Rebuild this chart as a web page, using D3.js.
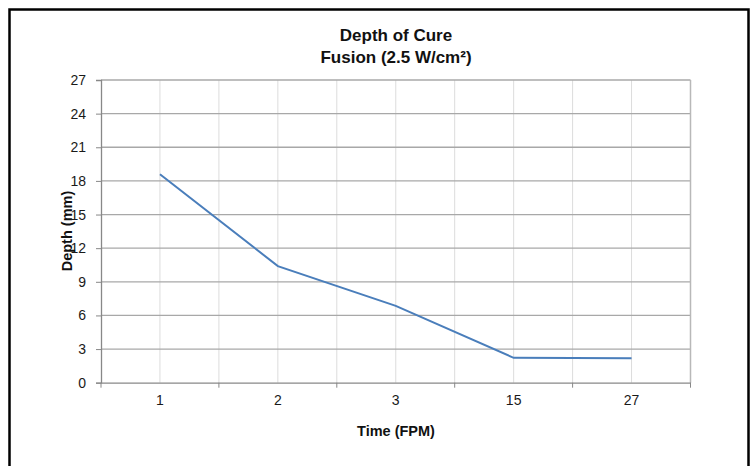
<!DOCTYPE html>
<html>
<head>
<meta charset="utf-8">
<script src="https://cdn.jsdelivr.net/npm/d3@7"></script>
<style>
body{margin:0;background:#fff;}
svg{display:block;font-family:"Liberation Sans",Arial,sans-serif;}
</style>
</head>
<body>
<svg id="chart" width="750" height="466"></svg>
<script>
const categories = ["1","2","3","15","27"];
const depthValues = [18.6, 10.4, 6.85, 2.22, 2.18];
const yTicks = [0,3,6,9,12,15,18,21,24,27];
const titleLines = ["Depth of Cure","Fusion (2.5 W/cm²)"];

const svg = d3.select("#chart");
const m = {left:101, right:690.5, top:80, bottom:382.7};

svg.append("rect").attr("x",9.5).attr("y",9.5).attr("width",739).attr("height",470)
  .attr("fill","#fff").attr("stroke","#000").attr("stroke-width",2.5);

const x = d3.scaleBand().domain(categories).range([m.left,m.right]).padding(0);
const y = d3.scaleLinear().domain([0,27]).range([m.bottom,m.top]);

const g = svg.append("g");
const vlines = [];
categories.forEach((c,i)=>{ vlines.push(x(c)+x.bandwidth()/2); if(i>0) vlines.push(x(c)); });
g.selectAll(".vg").data(vlines).join("line")
  .attr("x1",d=>d).attr("x2",d=>d).attr("y1",m.top).attr("y2",m.bottom)
  .attr("stroke","#dcdcdc").attr("stroke-width",1);
g.selectAll(".hg").data(yTicks.filter(t=>t>0)).join("line")
  .attr("x1",m.left).attr("x2",m.right).attr("y1",d=>y(d)).attr("y2",d=>y(d))
  .attr("stroke","#a8a8a8").attr("stroke-width",1.3);
g.append("line").attr("x1",m.right).attr("x2",m.right).attr("y1",m.top).attr("y2",m.bottom)
  .attr("stroke","#b8b8b8").attr("stroke-width",1.5);

const yAxis = d3.axisLeft(y).tickValues(yTicks).tickSize(5).tickPadding(10);
const ya = svg.append("g").attr("transform",`translate(${m.left},0)`).call(yAxis);
ya.attr("font-size",null).attr("font-family",null);
ya.select(".domain").attr("stroke","#888").attr("stroke-width",1.3);
ya.selectAll(".tick line").attr("stroke","#888");
ya.selectAll("text").style("font-size","14px").attr("fill","#1a1a1a");

const xAxis = d3.axisBottom(x).tickSize(0).tickPadding(12).tickSizeOuter(0);
const xa = svg.append("g").attr("transform",`translate(0,${m.bottom})`).call(xAxis);
xa.attr("font-size",null).attr("font-family",null);
xa.select(".domain").attr("stroke","#888").attr("stroke-width",1.3);
xa.selectAll("text").style("font-size","14px").attr("fill","#1a1a1a");
const bounds = categories.map(c=>x(c)).concat([m.right]);
xa.selectAll(".bt").data(bounds).join("line")
  .attr("x1",d=>d).attr("x2",d=>d).attr("y1",0).attr("y2",5)
  .attr("stroke","#888").attr("stroke-width",1);

const line = d3.line().x((d,i)=>x(categories[i])+x.bandwidth()/2).y(d=>y(d));
svg.append("path").datum(depthValues).attr("d",line)
  .attr("fill","none").attr("stroke","#4a7ebb").attr("stroke-width",2);

svg.selectAll(".title").data(titleLines).join("text")
  .attr("x",396).attr("y",(d,i)=>41+i*22).attr("text-anchor","middle")
  .style("font-size","17px").attr("font-weight","bold").attr("fill","#111").text(d=>d);
svg.append("text").attr("x",396).attr("y",436).attr("text-anchor","middle")
  .style("font-size","14.5px").attr("font-weight","bold").attr("fill","#111").text("Time (FPM)");
svg.append("text").attr("transform","translate(72,231) rotate(-90)").attr("text-anchor","middle")
  .style("font-size","14.5px").attr("font-weight","bold").attr("fill","#111").text("Depth (mm)");
</script>
</body>
</html>
